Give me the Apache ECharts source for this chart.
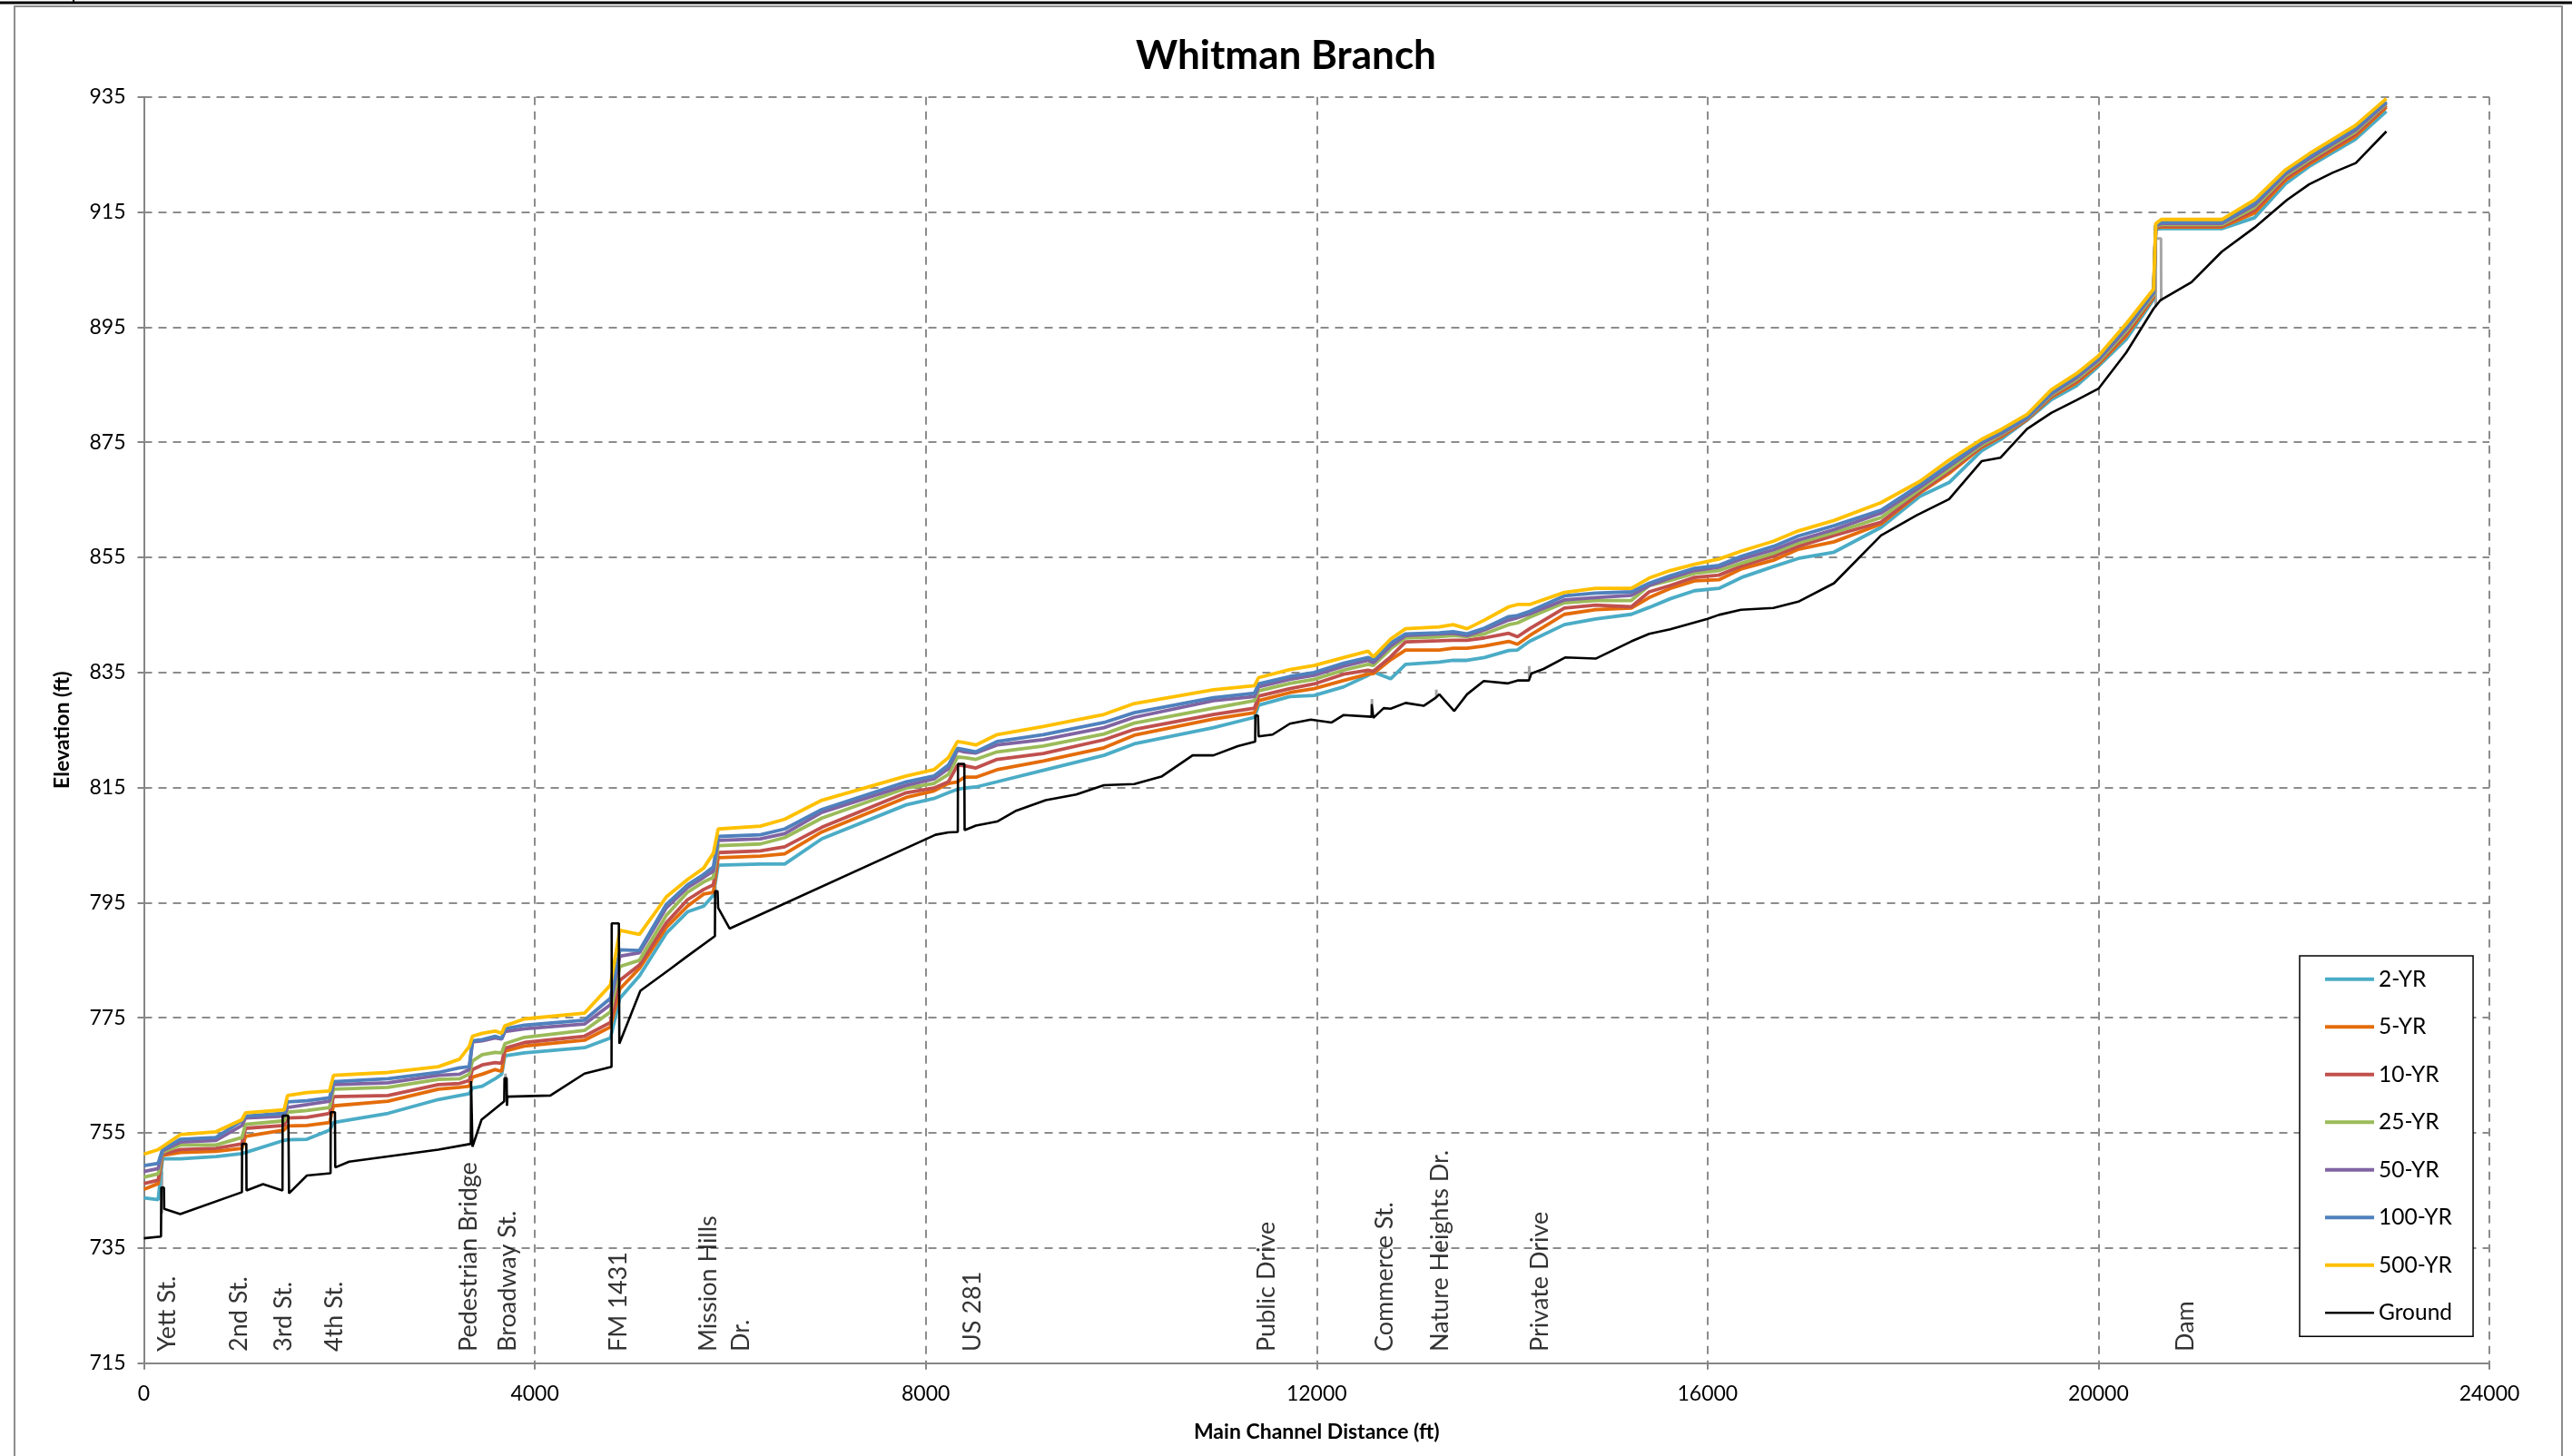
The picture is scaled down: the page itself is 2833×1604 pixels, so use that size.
<!DOCTYPE html>
<html>
<head>
<meta charset="utf-8">
<script src="https://cdn.jsdelivr.net/npm/echarts@6/dist/echarts.min.js"></script>
<style>
html,body{margin:0;padding:0;background:#fff;}
#chart{width:2833px;height:1604px;}
</style>
</head>
<body>
<div id="chart"></div>
<script>
// ---------------- DATA ----------------
const seriesNames = ['2-YR', '5-YR', '10-YR', '25-YR', '50-YR', '100-YR', '500-YR'];

const stations = [0, 146, 190, 372, 737, 1003, 1040, 1435, 1470, 1668, 1900, 1940, 2498, 3013, 3229, 3329, 3362, 3462, 3594, 3661, 3694, 3893, 4508, 4774, 4870, 5071, 5346, 5562, 5728, 5827, 5876, 6308, 6557, 6938, 7801, 8083, 8232, 8325, 8398, 8514, 8730, 9202, 9824, 10134, 10944, 11364, 11406, 11726, 11975, 12277, 12526, 12580, 12757, 12910, 13255, 13397, 13539, 13717, 13966, 14055, 14179, 14535, 14855, 15220, 15403, 15618, 15867, 16116, 16348, 16674, 16929, 17294, 17775, 18173, 18472, 18804, 19003, 19268, 19517, 19774, 20000, 20285, 20564, 20586, 20642, 21262, 21597, 21913, 22155, 22627, 22946];

const yr500 = [751.3, 752.1, 752.6, 754.7, 755.2, 757.3, 758.5, 759.0, 761.5, 762.0, 762.3, 765.0, 765.5, 766.5, 767.8, 770.0, 771.8, 772.3, 772.7, 772.3, 773.6, 774.8, 775.8, 780.7, 790.2, 789.5, 796.0, 799.0, 801.0, 803.6, 807.8, 808.3, 809.5, 812.8, 817.0, 818.1, 820.2, 823.0, 822.8, 822.4, 824.2, 825.6, 827.7, 829.6, 832.0, 832.7, 834.1, 835.5, 836.2, 837.6, 838.7, 837.7, 840.8, 842.6, 842.9, 843.3, 842.6, 844.1, 846.4, 846.8, 846.8, 848.9, 849.6, 849.6, 851.4, 852.7, 853.8, 854.7, 856.1, 857.8, 859.6, 861.4, 864.5, 868.2, 871.9, 875.5, 877.2, 879.8, 884.1, 886.9, 890.0, 895.6, 901.6, 913.0, 913.7, 913.7, 917.1, 922.3, 925.1, 930.0, 934.7];
const yr100 = [749.3, 749.7, 752.1, 753.9, 754.2, 757.1, 757.9, 758.4, 760.4, 760.6, 761.1, 763.9, 764.4, 765.5, 766.3, 766.5, 771.0, 771.2, 771.8, 771.4, 773.1, 773.7, 774.6, 778.4, 786.8, 786.7, 794.7, 798.1, 799.9, 801.2, 806.5, 806.8, 807.8, 811.2, 816.0, 817.0, 818.9, 821.8, 821.6, 821.2, 823.0, 824.2, 826.3, 828.0, 830.6, 831.4, 833.0, 834.3, 835.0, 836.6, 837.6, 837.2, 840.1, 841.7, 841.9, 842.1, 841.7, 842.7, 844.7, 844.9, 845.6, 848.3, 848.8, 849.0, 850.5, 851.8, 853.1, 853.6, 855.2, 856.9, 858.7, 860.5, 863.2, 867.6, 871.1, 875.1, 876.7, 879.3, 883.6, 886.5, 889.6, 895.1, 901.1, 912.7, 913.2, 913.2, 916.5, 921.9, 924.6, 929.5, 934.2];
const yr50 = [748.3, 748.8, 751.9, 753.4, 753.7, 756.3, 757.6, 757.9, 759.4, 759.9, 760.5, 763.4, 763.7, 765.0, 765.2, 766.0, 770.8, 771.0, 771.5, 771.3, 772.6, 773.1, 773.9, 777.3, 785.7, 786.3, 794.1, 797.6, 799.4, 800.5, 805.8, 806.1, 807.0, 810.7, 815.4, 816.5, 818.3, 821.5, 821.2, 821.0, 822.4, 823.3, 825.4, 827.2, 830.1, 830.8, 832.5, 833.8, 834.5, 836.1, 837.1, 836.7, 839.6, 841.4, 841.7, 841.8, 841.4, 842.4, 844.1, 844.5, 845.2, 847.6, 848.0, 848.4, 850.1, 851.4, 852.7, 853.3, 854.7, 856.3, 858.0, 859.8, 862.7, 867.2, 870.8, 874.8, 876.5, 879.2, 883.4, 886.2, 889.3, 894.7, 900.9, 912.6, 913.0, 913.0, 916.2, 921.6, 924.3, 929.2, 934.0];
const yr25 = [747.3, 747.9, 751.6, 752.9, 752.9, 754.2, 756.5, 757.1, 758.6, 758.9, 759.4, 762.6, 762.9, 764.3, 764.4, 765.2, 767.5, 768.6, 769.0, 768.9, 770.5, 771.6, 772.8, 776.0, 783.9, 785.0, 792.8, 796.8, 798.6, 799.4, 804.9, 805.2, 806.3, 809.7, 814.9, 815.7, 817.3, 820.3, 820.2, 819.9, 821.2, 822.2, 824.3, 826.2, 828.8, 830.1, 831.8, 833.1, 833.8, 835.4, 836.4, 836.2, 839.1, 841.0, 841.2, 841.4, 841.2, 841.7, 843.3, 843.6, 844.6, 847.1, 847.5, 847.5, 850.1, 851.0, 852.2, 852.7, 854.0, 855.7, 857.5, 859.3, 861.9, 866.8, 870.3, 874.5, 876.3, 879.1, 883.2, 885.9, 889.0, 894.3, 900.6, 912.5, 912.8, 912.8, 915.8, 921.3, 924.0, 928.9, 933.8];
const yr10 = [746.2, 746.8, 751.3, 752.1, 752.3, 753.1, 755.8, 756.3, 757.6, 757.7, 758.4, 761.3, 761.5, 763.4, 763.6, 764.1, 766.0, 766.8, 767.2, 767.1, 769.7, 770.7, 771.8, 774.2, 781.5, 784.2, 791.5, 795.5, 797.3, 798.1, 803.7, 804.0, 804.7, 808.1, 814.1, 814.9, 816.0, 818.9, 818.8, 818.4, 819.9, 820.9, 823.3, 825.1, 827.7, 828.8, 830.9, 832.2, 833.0, 834.7, 835.4, 835.2, 837.7, 840.3, 840.5, 840.6, 840.6, 841.0, 841.8, 841.2, 842.6, 846.2, 846.7, 846.4, 849.0, 850.1, 851.5, 851.9, 853.5, 855.2, 856.9, 858.8, 861.1, 866.4, 869.9, 874.3, 876.1, 879.0, 883.0, 885.6, 888.8, 893.9, 900.4, 912.3, 912.6, 912.6, 915.3, 920.9, 923.6, 928.5, 933.5];
const yr5 = [745.2, 746.2, 751.1, 751.6, 751.8, 752.3, 754.4, 755.5, 756.2, 756.3, 756.8, 759.7, 760.5, 762.6, 762.9, 763.1, 764.7, 765.2, 766.0, 765.7, 769.2, 770.1, 771.1, 773.4, 780.0, 783.6, 790.7, 794.4, 796.5, 796.8, 802.8, 803.1, 803.5, 807.3, 813.3, 814.4, 815.7, 816.0, 816.8, 816.8, 818.1, 819.6, 821.9, 824.1, 826.9, 828.0, 830.1, 831.5, 832.2, 833.6, 834.7, 834.8, 837.2, 838.9, 838.9, 839.2, 839.2, 839.6, 840.4, 839.9, 841.4, 845.1, 845.9, 846.2, 848.0, 849.6, 850.9, 851.1, 853.0, 854.5, 856.4, 857.7, 860.8, 866.2, 869.6, 874.1, 875.9, 878.9, 882.8, 885.3, 888.5, 893.5, 900.1, 912.2, 912.4, 912.4, 914.8, 920.5, 923.3, 928.1, 933.2];
const yr2 = [743.7, 743.4, 750.5, 750.5, 750.9, 751.4, 751.6, 753.7, 753.8, 753.9, 755.5, 756.8, 758.4, 760.8, 761.5, 761.8, 762.8, 763.1, 764.4, 765.2, 768.4, 768.9, 769.8, 771.5, 778.4, 782.3, 789.7, 793.4, 794.4, 796.3, 801.5, 801.7, 801.7, 806.1, 812.0, 813.1, 814.1, 814.7, 814.9, 815.1, 816.0, 818.0, 820.6, 822.6, 825.4, 827.2, 829.3, 830.8, 831.0, 832.5, 834.5, 835.1, 833.9, 836.4, 836.8, 837.1, 837.1, 837.6, 838.8, 838.9, 840.4, 843.3, 844.3, 845.1, 846.3, 847.8, 849.2, 849.6, 851.5, 853.4, 854.8, 855.9, 860.2, 865.6, 868.0, 873.5, 875.5, 878.8, 882.4, 884.8, 888.2, 892.9, 899.8, 912.0, 912.1, 912.1, 914.0, 919.9, 922.9, 927.6, 932.5];

// Ground profile (station ft, elevation ft), including structure outlines
const groundStations = [0, 175, 178, 205, 208, 372, 1003, 1005, 1048, 1050, 1219, 1418, 1420, 1478, 1485, 1668, 1910, 1912, 1955, 1958, 2100, 3013, 3345, 3348, 3358, 3362, 3455, 3687, 3690, 3712, 3715, 3720, 4159, 4508, 4785, 4787, 4860, 4865, 5080, 5379, 5545, 5843, 5845, 5870, 5876, 5993, 8100, 8232, 8328, 8330, 8395, 8398, 8514, 8730, 8929, 9228, 9540, 9824, 10134, 10411, 10731, 10944, 11193, 11371, 11373, 11400, 11406, 11549, 11726, 11940, 12153, 12277, 12562, 12564, 12575, 12580, 12686, 12757, 12910, 13095, 13219, 13255, 13408, 13539, 13710, 13959, 14055, 14172, 14197, 14321, 14542, 14855, 15220, 15403, 15618, 16000, 16116, 16342, 16674, 16929, 17294, 17775, 18140, 18472, 18804, 18996, 19268, 19517, 19774, 20000, 20285, 20564, 20636, 20952, 21262, 21597, 21929, 22155, 22394, 22633, 22946];
const groundElev = [736.7, 737.0, 745.5, 745.5, 741.8, 740.9, 744.7, 753.1, 753.1, 745.0, 746.1, 745.0, 758.0, 758.0, 744.5, 747.6, 748.0, 758.6, 758.6, 749.0, 750.0, 752.1, 753.1, 764.0, 764.0, 752.6, 757.3, 760.5, 764.5, 764.5, 759.7, 761.3, 761.5, 765.3, 766.5, 791.4, 791.4, 770.5, 779.7, 783.4, 785.5, 789.2, 797.0, 797.0, 794.1, 790.5, 806.8, 807.2, 807.3, 819.1, 819.1, 807.6, 808.4, 809.1, 811.0, 812.8, 813.8, 815.4, 815.6, 816.9, 820.6, 820.6, 822.2, 823.0, 827.5, 827.5, 823.9, 824.2, 826.1, 826.8, 826.3, 827.6, 827.3, 829.5, 829.5, 827.1, 828.8, 828.7, 829.7, 829.2, 830.6, 831.2, 828.3, 831.2, 833.5, 833.1, 833.6, 833.6, 834.8, 835.6, 837.6, 837.4, 840.4, 841.7, 842.5, 844.3, 845.0, 845.9, 846.2, 847.3, 850.5, 858.8, 862.3, 865.1, 871.7, 872.3, 877.3, 880.1, 882.3, 884.3, 890.6, 898.2, 899.7, 902.8, 908.1, 912.3, 917.1, 919.8, 921.8, 923.5, 929.0];

// Light-gray structure (high chord) outlines; null = gap
const structStations = [185, 185, null, 1003, 1003, null, 1915, 1915, 1950, null, 3700, 3700, null, 5848, 5848, null, 12566, 12566, null, 13225, 13225, null, 14175, 14175, null, 20586, 20588, 20640, 20642];
const structElev = [748.3, 741.0, null, 754.2, 753.1, null, 758.6, 760.2, 760.2, null, 765.3, 764.2, null, 797.8, 797.0, null, 830.4, 829.5, null, 832.0, 830.6, null, 836.1, 834.0, null, 898.5, 910.4, 910.4, 899.5];

// Structure labels
const structureNames = ['Yett St.', '2nd St.', '3rd St.', '4th St.', 'Pedestrian Bridge', 'Broadway St.', 'FM 1431', 'Mission Hills\nDr.', 'US 281', 'Public Drive', 'Commerce St.', 'Nature Heights Dr.', 'Private Drive', 'Dam'];
const structureStations = [240, 970, 1431, 1952, 3327, 3722, 4854, 5945, 8477, 11487, 12699, 13267, 14283, 20887];

const xTicks = [0, 4000, 8000, 12000, 16000, 20000, 24000];
const yTicks = [715, 735, 755, 775, 795, 815, 835, 855, 875, 895, 915, 935];

const colors = ['#4BACC6', '#E46C0A', '#C0504D', '#9BBB59', '#8064A2', '#4F81BD', '#FFC000'];

// ---------------- CHART ----------------
const FONT = 'Lato, "Open Sans", sans-serif';
const chart = echarts.init(document.getElementById('chart'), null, {renderer: 'canvas'});

const water = [yr2, yr5, yr10, yr25, yr50, yr100, yr500];
const zip = (xs, ys) => xs.map((x, i) => (x === null || ys[i] === null) ? ['-', '-'] : [x, ys[i]]);

const series = water.map((vals, k) => ({
  name: seriesNames[k],
  type: 'line',
  data: zip(stations, vals),
  symbol: 'none',
  lineStyle: {color: colors[k], width: 3.8},
  itemStyle: {color: colors[k]},
  z: 3 + k,
  silent: true
}));

series.unshift({
  name: 'Structure',
  type: 'line',
  data: zip(structStations, structElev),
  symbol: 'none',
  connectNulls: false,
  lineStyle: {color: '#A6A6A6', width: 3},
  z: 2,
  silent: true
});

series.push({
  name: 'Ground',
  type: 'line',
  data: zip(groundStations, groundElev),
  symbol: 'none',
  lineStyle: {color: '#000000', width: 2.6},
  itemStyle: {color: '#000000'},
  z: 12,
  silent: true
});

const labelBaseElev = 717.0;
series.push({
  name: 'Labels',
  type: 'scatter',
  data: structureStations.map((s, i) => ({value: [s, labelBaseElev], name: structureNames[i]})),
  symbolSize: 0,
  silent: true,
  z: 20,
  label: {
    show: true,
    formatter: p => p.name,
    position: [0, 0],
    rotate: 90,
    align: 'left',
    verticalAlign: 'middle',
    fontFamily: FONT,
    fontSize: 27,
    lineHeight: 36,
    color: '#000'
  }
});

const legendNames = seriesNames.concat(['Ground']);
const legendData = legendNames.map((n, i) => ({
  name: n,
  lineStyle: {width: i < seriesNames.length ? 4 : 2.5}
}));

const option = {
  animation: false,
  backgroundColor: '#fff',
  title: {
    text: 'Whitman Branch',
    left: 'center',
    top: 35,
    textStyle: {fontFamily: FONT, fontWeight: 'bold', fontSize: 44, color: '#000'}
  },
  legend: {
    data: legendData,
    orient: 'vertical',
    left: 2533,
    top: 1053,
    itemWidth: 54,
    itemHeight: 8,
    itemGap: 26.5,
    padding: [12.7, 23, 13, 26],
    borderColor: '#000',
    borderWidth: 1.5,
    backgroundColor: '#fff',
    itemStyle: {opacity: 0},
    textStyle: {fontFamily: FONT, fontSize: 24.5, lineHeight: 26, color: '#000'},
    selectedMode: false
  },
  grid: {left: 158.5, right: 91, top: 106.7, bottom: 102.3, containLabel: false},
  xAxis: {
    type: 'value',
    min: xTicks[0],
    max: xTicks[xTicks.length - 1],
    interval: xTicks[1] - xTicks[0],
    name: 'Main Channel Distance (ft)',
    nameLocation: 'middle',
    nameGap: 64,
    nameTextStyle: {fontFamily: FONT, fontWeight: 'bold', fontSize: 23, color: '#000'},
    axisLine: {show: true, onZero: false, lineStyle: {color: '#868686', width: 2}},
    axisTick: {show: true, length: 7, lineStyle: {color: '#868686', width: 2}},
    axisLabel: {margin: 22, fontFamily: FONT, fontSize: 23, color: '#000', formatter: v => String(v)},
    splitLine: {show: true, lineStyle: {color: '#8C8C8C', width: 2, type: [9, 7]}}
  },
  yAxis: {
    type: 'value',
    min: yTicks[0],
    max: yTicks[yTicks.length - 1],
    interval: yTicks[1] - yTicks[0],
    name: 'Elevation (ft)',
    nameLocation: 'middle',
    nameGap: 78,
    nameRotate: 90,
    nameTextStyle: {fontFamily: FONT, fontWeight: 'bold', fontSize: 23, color: '#000'},
    axisLine: {show: true, onZero: false, lineStyle: {color: '#868686', width: 2}},
    axisTick: {show: true, length: 7, lineStyle: {color: '#868686', width: 2}},
    axisLabel: {margin: 20, fontFamily: FONT, fontSize: 23, color: '#000', formatter: v => String(v)},
    splitLine: {show: true, lineStyle: {color: '#8C8C8C', width: 2, type: [9, 7]}}
  },
  graphic: [
    {type: 'rect', shape: {x: 16, y: 7, width: 2806, height: 1640}, style: {fill: 'none', stroke: '#8C8C8C', lineWidth: 2}, silent: true, z: 0},
    {type: 'line', shape: {x1: 0, y1: 3, x2: 2833, y2: 3}, style: {stroke: '#000', lineWidth: 3}, silent: true},
    {type: 'line', shape: {x1: 81, y1: 0, x2: 81, y2: 3}, style: {stroke: '#000', lineWidth: 2}, silent: true}
  ],
  series: series
};

chart.setOption(option);
</script>
</body>
</html>
